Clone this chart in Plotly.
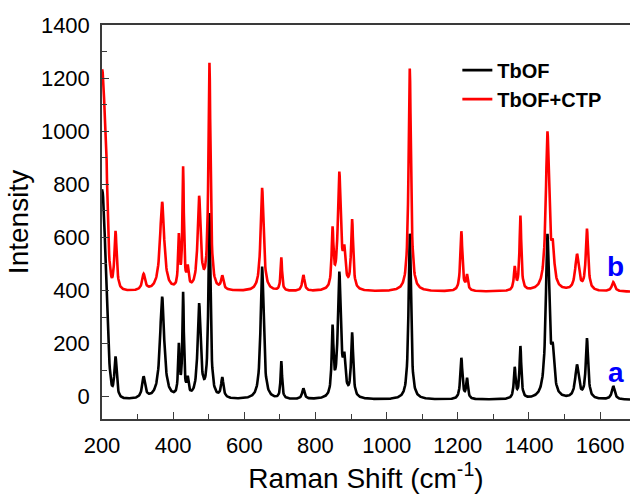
import numpy as np
import plotly.graph_objects as go

# ---- data (Raman shift in cm-1, intensity in a.u.) ----
x_start, x_stop, x_step = 200, 1684, 1.0

# TbOF (curve a): Lorentzian bands  -> centre, height above baseline, half-width
black_centers = [238, 317, 369, 416, 428, 441, 473, 502, 538, 650, 704, 766, 848, 867, 881, 903,
                 1065, 1210, 1226, 1360, 1376, 1452, 1467, 1535, 1563, 1637]
black_heights = [160, 80, 385, 185, 385, 60, 350, 690, 75, 500, 140, 40, 250, 465, 120, 240,
                 625, 155, 75, 115, 195, 610, 140, 125, 225, 50]
black_widths = [4, 5, 7, 2.5, 2.5, 3, 5, 3.5, 4, 5, 2.5, 4, 3, 5, 4, 3.5,
                4, 3.5, 3, 3, 3, 5.5, 5, 6, 4, 5]
black_baseline = -12
black_edge = [790, 200, 11]     # Rayleigh tail: height, centre, sigma

# TbOF+CTP (curve b)
red_centers = [212, 238, 317, 369, 416, 428, 441, 473, 502, 538, 650, 704, 766, 848, 867, 881, 903,
               1065, 1210, 1226, 1360, 1376, 1452, 1467, 1535, 1563, 1637]
red_heights = [150, 225, 60, 335, 190, 450, 70, 345, 850, 50, 390, 125, 60, 215, 435, 120, 260,
               840, 225, 55, 85, 280, 590, 125, 135, 230, 35]
red_widths = [3, 4, 5, 7, 2.5, 2.5, 3, 5, 3.5, 4, 5, 2.5, 4, 3, 5, 4, 3.5,
              4, 3.5, 3, 3, 3, 5.5, 5, 6, 4, 5]
red_baseline = 395
red_edge = [825, 200, 10]

series_names = ["TbOF", "TbOF+CTP"]
series_colors = ["#000000", "#FF0000"]
curve_labels = ["a", "b"]
label_pos = [(1644, 93), (1644, 489)]

x_ticks = [200, 400, 600, 800, 1000, 1200, 1400, 1600]
y_ticks = [0, 200, 400, 600, 800, 1000, 1200, 1400]


def spectrum(x, base, edge, centers, heights, widths):
    y = np.full_like(x, float(base))
    h, c, s = edge
    y += h * np.exp(-0.5 * ((x - c) / s) ** 2)
    for c0, h0, w0 in zip(centers, heights, widths):
        y += h0 / (1.0 + ((x - c0) / w0) ** 2)
    return y


x = np.arange(x_start, x_stop + x_step, x_step)
y_black = spectrum(x, black_baseline, black_edge, black_centers, black_heights, black_widths)
y_red = spectrum(x, red_baseline, red_edge, red_centers, red_heights, red_widths)

FONT = "Arial, Liberation Sans, sans-serif"

fig = go.Figure()
for name, col, yy in zip(series_names, series_colors, [y_black, y_red]):
    fig.add_trace(go.Scatter(x=x, y=yy, mode="lines", name=name,
                             line=dict(color=col, width=2.6)))

for lab, (lx, ly) in zip(curve_labels, label_pos):
    fig.add_annotation(x=lx, y=ly, text=lab, showarrow=False, xref="x", yref="y",
                       font=dict(family=FONT, size=28, color="#0000FF", weight="bold"))

axis_common = dict(
    showgrid=False, zeroline=False, showline=True, linecolor="#3a3a3a", linewidth=1.5,
    ticks="inside", ticklen=7, tickwidth=1.3, tickcolor="#3a3a3a",
    tickfont=dict(family=FONT, size=22, color="#000000"),
)

fig.update_layout(
    width=630, height=495,
    margin=dict(l=102, r=0, t=25, b=76),
    paper_bgcolor="white", plot_bgcolor="white",
    showlegend=True,
    legend=dict(x=0.673, y=0.935, xanchor="left", yanchor="top",
                bgcolor="rgba(0,0,0,0)", borderwidth=0,
                font=dict(family=FONT, size=20, color="#000000", weight="bold"),
                tracegroupgap=0),
    xaxis=dict(axis_common, range=[x_start, x_stop], tickvals=x_ticks, mirror=True,
               minor=dict(dtick=100, tick0=200, ticks="inside", ticklen=5, tickcolor="#3a3a3a"),
               ticklabelstandoff=6,
               title=dict(text="Raman Shift (cm<sup>-1</sup>)", standoff=6,
                          font=dict(family=FONT, size=28, color="#000000"))),
    yaxis=dict(axis_common, range=[-84, 1400], tickvals=y_ticks,
               minor=dict(dtick=100, tick0=0, ticks="inside", ticklen=5, tickcolor="#3a3a3a"),
               ticklabelstandoff=6,
               title=dict(text="Intensity", standoff=4,
                          font=dict(family=FONT, size=28, color="#000000"))),
)

# remove the default page margin so the 630x495 figure fills the window exactly
fig.write_html("out.html",
               config={"displayModeBar": False},
               post_script="document.body.style.margin='0';document.body.style.overflow='hidden';")
